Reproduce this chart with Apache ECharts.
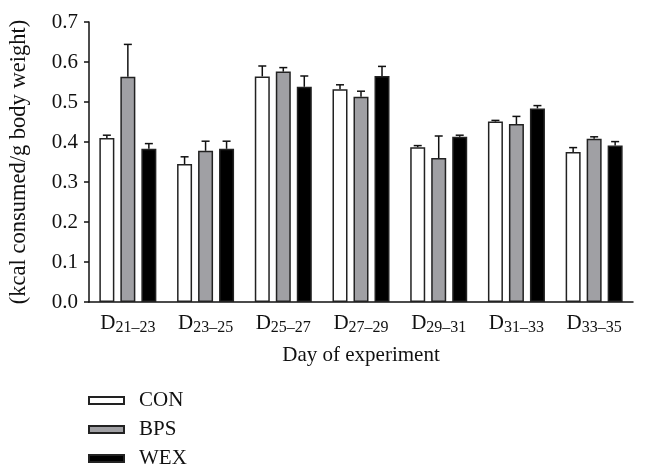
<!DOCTYPE html>
<html>
<head>
<meta charset="utf-8">
<script src="https://cdn.jsdelivr.net/npm/echarts@6/dist/echarts.min.js"></script>
<style>html,body{margin:0;padding:0;background:#fff;}#c{width:648px;height:476px;}</style>
</head>
<body>
<div id="c"></div>
<script>
// Data
var categories = ['21–23', '23–25', '25–27', '27–29', '29–31', '31–33', '33–35'];
var seriesNames = ['CON', 'BPS', 'WEX'];
var conMean = [0.410, 0.345, 0.564, 0.532, 0.387, 0.451, 0.375];
var conErr  = [0.007, 0.018, 0.026, 0.011, 0.004, 0.003, 0.011];
var bpsMean = [0.563, 0.378, 0.576, 0.513, 0.360, 0.445, 0.408];
var bpsErr  = [0.081, 0.024, 0.010, 0.014, 0.055, 0.019, 0.005];
var wexMean = [0.383, 0.383, 0.538, 0.565, 0.413, 0.484, 0.391];
var wexErr  = [0.013, 0.019, 0.027, 0.024, 0.004, 0.007, 0.010];
var yTicks = [0, 0.1, 0.2, 0.3, 0.4, 0.5, 0.6, 0.7];

var FONT = 'Liberation Serif';
var BAR_W = 15, BAR_GAP = 6;
var colors = ['#ffffff', '#a0a0a4', '#000000'];
var means = [conMean, bpsMean, wexMean];
var errs = [conErr, bpsErr, wexErr];

var chart = echarts.init(document.getElementById('c'), null, {renderer: 'canvas'});

function errSeries(idx) {
  var offset = (idx - 1) * (BAR_W + BAR_GAP);
  var data = categories.map(function (c, i) {
    return [i, means[idx][i], means[idx][i] + errs[idx][i]];
  });
  return {
    type: 'custom',
    name: seriesNames[idx] + ' err',
    z: 5,
    silent: true,
    data: data,
    renderItem: function (params, api) {
      var x = api.coord([api.value(0), api.value(1)])[0] + offset;
      var yb = api.coord([api.value(0), api.value(1)])[1];
      var yt = api.coord([api.value(0), api.value(2)])[1];
      var style = {stroke: '#111', lineWidth: 1.5};
      return {
        type: 'group',
        children: [
          {type: 'line', shape: {x1: x, y1: yb, x2: x, y2: yt}, style: style},
          {type: 'line', shape: {x1: x - 4, y1: yt, x2: x + 4, y2: yt}, style: style}
        ]
      };
    }
  };
}

var barSeries = seriesNames.map(function (n, idx) {
  return {
    type: 'bar',
    name: n,
    data: means[idx],
    barWidth: BAR_W,
    barGap: (BAR_GAP / BAR_W * 100) + '%',
    itemStyle: {color: colors[idx], borderColor: '#222', borderWidth: 1.5},
    z: 2
  };
});

var option = {
  animation: false,
  backgroundColor: '#ffffff',
  textStyle: {fontFamily: FONT},
  grid: {left: 89, right: 15, top: 22, bottom: 174, containLabel: false},
  legend: {
    data: seriesNames,
    orient: 'vertical',
    left: 88,
    top: 390,
    height: 90,
    padding: 0,
    itemWidth: 35,
    itemHeight: 7,
    itemGap: 8,
    icon: 'rect',
    textStyle: {fontFamily: FONT, fontSize: 21, color: '#111', lineHeight: 20.5, padding: [0, 0, 0, 10]}
  },
  xAxis: {
    type: 'category',
    data: categories,
    name: 'Day of experiment',
    nameLocation: 'middle',
    nameGap: 43,
    nameTextStyle: {fontFamily: FONT, fontSize: 21, color: '#111'},
    axisLine: {lineStyle: {color: '#111', width: 1.5}},
    axisTick: {alignWithLabel: true, length: 6, lineStyle: {color: '#111', width: 1.5}},
    axisLabel: {
      interval: 0,
      hideOverlap: false,
      margin: 11,
      formatter: function (v) { return '{d|D}{s|' + v + '}'; },
      rich: {
        d: {fontFamily: FONT, fontSize: 21, color: '#111', verticalAlign: 'bottom', padding: [0, 0, 2, 0]},
        s: {fontFamily: FONT, fontSize: 16, color: '#111', verticalAlign: 'bottom'}
      }
    }
  },
  yAxis: {
    type: 'value',
    min: 0,
    max: 0.7,
    interval: 0.1,
    name: '(kcal consumed/g body weight)',
    nameLocation: 'middle',
    nameRotate: 90,
    nameGap: 58,
    nameTextStyle: {fontFamily: FONT, fontSize: 22.5, color: '#111'},
    axisLine: {show: true, lineStyle: {color: '#111', width: 1.5}},
    axisTick: {show: true, length: 5, lineStyle: {color: '#111', width: 1.5}},
    splitLine: {show: false},
    axisLabel: {
      margin: 11,
      fontFamily: FONT,
      fontSize: 21,
      color: '#111',
      formatter: function (v) {
        for (var i = 0; i < yTicks.length; i++) {
          if (Math.abs(yTicks[i] - v) < 1e-9) return yTicks[i].toFixed(1);
        }
        return '';
      }
    }
  },
  series: barSeries.concat([errSeries(0), errSeries(1), errSeries(2)])
};
chart.setOption(option);
</script>
</body>
</html>
